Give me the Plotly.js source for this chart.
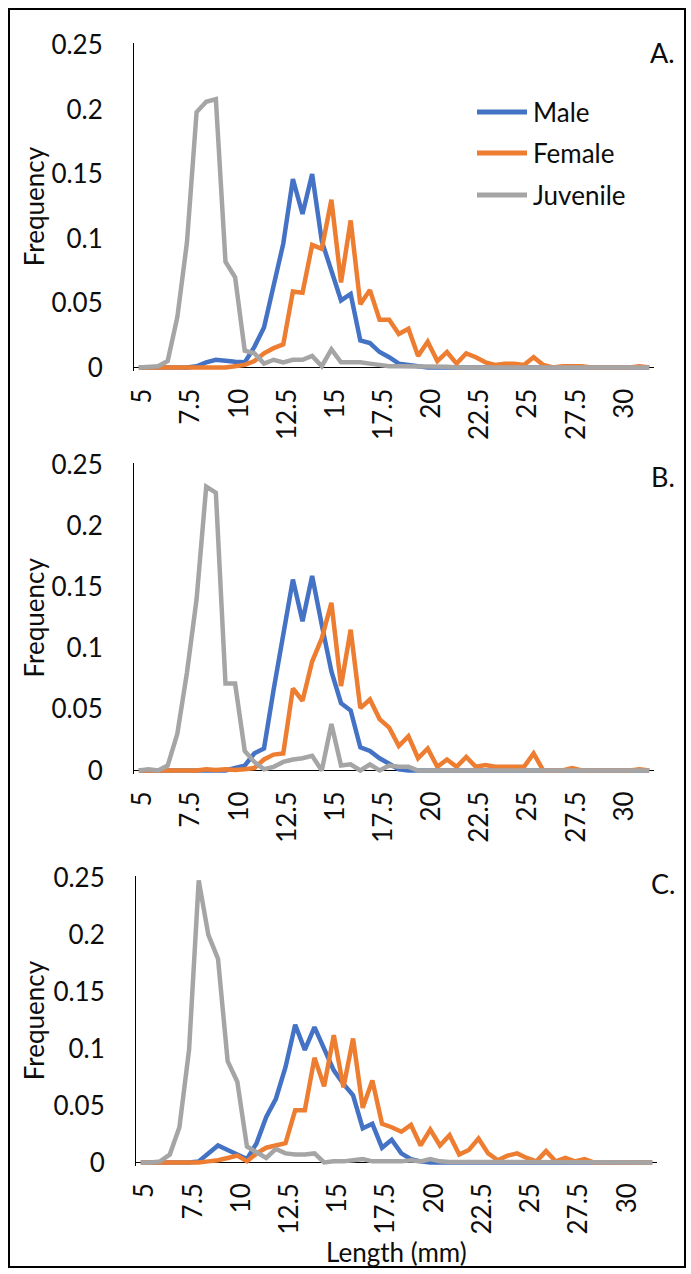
<!DOCTYPE html>
<html>
<head>
<meta charset="utf-8">
<script src="https://cdn.plot.ly/plotly-3.0.1.min.js"></script>
<style>
  html, body { margin: 0; padding: 0; background: #fff; }
  #chart { width: 691px; height: 1274px; }
</style>
</head>
<body>
<div id="chart"></div>
<script>
// Length classes (mm), one point every 0.5 mm
const lengthMm = [5, 5.5, 6, 6.5, 7, 7.5, 8, 8.5, 9, 9.5, 10, 10.5, 11, 11.5, 12, 12.5, 13, 13.5,
  14, 14.5, 15, 15.5, 16, 16.5, 17, 17.5, 18, 18.5, 19, 19.5, 20, 20.5, 21, 21.5, 22, 22.5,
  23, 23.5, 24, 24.5, 25, 25.5, 26, 26.5, 27, 27.5, 28, 28.5, 29, 29.5, 30, 30.5, 31, 31.5];

const seriesNames = ['Male', 'Female', 'Juvenile'];
const panelLabels = ['A.', 'B.', 'C.'];

const xTickVals = [5, 7.5, 10, 12.5, 15, 17.5, 20, 22.5, 25, 27.5, 30];
const xTickText = ['5', '7.5', '10', '12.5', '15', '17.5', '20', '22.5', '25', '27.5', '30'];
const yTickVals = [0, 0.05, 0.1, 0.15, 0.2, 0.25];
const yTickText = ['0', '0.05', '0.1', '0.15', '0.2', '0.25'];

// Panel A
const maleA = [0, 0, 0, 0, 0, 0, 0.001, 0.004, 0.006, 0.005, 0.0045, 0.004, 0.016, 0.031, 0.065, 0.096,
  0.146, 0.119, 0.150, 0.098, 0.075, 0.052, 0.057, 0.021, 0.019, 0.012, 0.008, 0.003, 0.002, 0.001,
  0, 0, 0, 0, 0, 0, 0, 0, 0, 0, 0, 0, 0, 0, 0, 0, 0, 0, 0, 0, 0, 0, 0, 0];
const femaleA = [0, 0, 0, 0, 0, 0, 0, 0, 0, 0, 0.001, 0.002, 0.005, 0.011, 0.015, 0.018,
  0.059, 0.058, 0.095, 0.092, 0.130, 0.066, 0.114, 0.049, 0.060, 0.037, 0.037, 0.026, 0.030, 0.009,
  0.020, 0.005, 0.012, 0.003, 0.011, 0.008, 0.004, 0.002, 0.003, 0.003, 0.002, 0.008, 0.002, 0,
  0.001, 0.001, 0.001, 0, 0, 0, 0, 0, 0.001, 0];
const juvenileA = [0, 0.0005, 0.001, 0.005, 0.039, 0.097, 0.198, 0.206, 0.208, 0.082, 0.070, 0.013,
  0.011, 0.003, 0.006, 0.004, 0.006, 0.006, 0.009, 0.001, 0.014, 0.004, 0.004, 0.004, 0.003, 0.002,
  0.001, 0.001, 0.001, 0.001, 0.001, 0.0005, 0.0005, 0, 0, 0, 0, 0, 0, 0, 0, 0, 0, 0, 0, 0, 0, 0,
  0, 0, 0, 0, 0, 0];

// Panel B
const maleB = [0, 0, 0, 0, 0, 0, 0, 0, 0, 0, 0.002, 0.004, 0.014, 0.018, 0.066, 0.109,
  0.156, 0.122, 0.159, 0.119, 0.081, 0.055, 0.049, 0.019, 0.016, 0.010, 0.005, 0.001,
  0, 0, 0, 0, 0, 0, 0, 0, 0, 0, 0, 0, 0, 0, 0, 0, 0, 0, 0, 0, 0, 0, 0, 0, 0, 0];
const femaleB = [0, 0, 0, 0, 0, 0, 0, 0.001, 0.0005, 0.001, 0.0005, 0.001, 0.002, 0.009, 0.013, 0.014,
  0.067, 0.057, 0.089, 0.108, 0.137, 0.069, 0.115, 0.051, 0.058, 0.042, 0.035, 0.020, 0.028, 0.010,
  0.018, 0.003, 0.009, 0.003, 0.011, 0.003, 0.0045, 0.003, 0.003, 0.003, 0.003, 0.014, 0, 0,
  0, 0.002, 0, 0, 0, 0, 0, 0, 0.001, 0];
const juvenileB = [0, 0.001, 0, 0.004, 0.030, 0.080, 0.140, 0.232, 0.227, 0.071, 0.071, 0.016,
  0.007, 0.001, 0.003, 0.007, 0.009, 0.010, 0.012, 0, 0.038, 0.004, 0.005, 0, 0.005, 0,
  0.004, 0.003, 0.003, 0, 0, 0, 0, 0, 0, 0, 0, 0, 0, 0, 0, 0, 0, 0, 0, 0, 0, 0, 0, 0, 0, 0, 0, 0];

// Panel C
const maleC = [0, 0, 0, 0, 0, 0, 0.001, 0.008, 0.015, 0.011, 0.007, 0.003, 0.017, 0.040, 0.056, 0.084,
  0.121, 0.099, 0.119, 0.099, 0.081, 0.069, 0.059, 0.030, 0.034, 0.013, 0.020, 0.008, 0.003, 0.001,
  0, 0, 0, 0, 0, 0, 0, 0, 0, 0, 0, 0, 0, 0, 0, 0, 0, 0, 0, 0, 0, 0, 0, 0];
const femaleC = [0, 0, 0, 0, 0, 0, 0, 0.001, 0.002, 0.004, 0.006, 0.001, 0.008, 0.013, 0.015, 0.017,
  0.046, 0.046, 0.092, 0.067, 0.112, 0.066, 0.109, 0.048, 0.072, 0.034, 0.031, 0.027, 0.033, 0.015,
  0.029, 0.015, 0.024, 0.007, 0.011, 0.021, 0.008, 0.002, 0.006, 0.008, 0.004, 0.001, 0.010, 0.001,
  0.004, 0.001, 0.003, 0, 0, 0, 0, 0, 0, 0];
const juvenileC = [0, 0, 0.001, 0.007, 0.031, 0.099, 0.248, 0.200, 0.179, 0.089, 0.071, 0.014,
  0.009, 0.004, 0.012, 0.008, 0.007, 0.007, 0.008, 0, 0.001, 0.001, 0.002, 0.003, 0.001, 0.001,
  0.001, 0.001, 0.002, 0.001, 0.003, 0.001, 0.0005, 0.0005, 0, 0, 0, 0, 0, 0, 0, 0, 0, 0, 0, 0, 0,
  0, 0, 0, 0, 0, 0, 0];

const seriesColors = ['#4472C4', '#ED7D31', '#A5A5A5'];

// ---- layout geometry (pixels) ----
const W = 691, H = 1274;
const FONT = 'Lato, "Open Sans", Arial, sans-serif';
const TXT = '#0d0d0d';
const FS = 26;
const xp = px => px / W;
const yp = py => 1 - py / H;

const panels = [
  { series: [maleA, femaleA, juvenileA], left: 134, right: 654, zeroPx: 367.5, topPx: 45, labelY: 52 },
  { series: [maleB, femaleB, juvenileB], left: 134, right: 654, zeroPx: 770.5, topPx: 464.5, labelY: 476 },
  { series: [maleC, femaleC, juvenileC], left: 136, right: 657, zeroPx: 1162.5, topPx: 878, labelY: 883 }
];

const below = 0.003, above = 0.0015;
const traces = [];
const layout = {
  width: W, height: H,
  margin: { l: 0, r: 0, t: 0, b: 0 },
  paper_bgcolor: '#ffffff',
  plot_bgcolor: 'rgba(0,0,0,0)',
  showlegend: false,
  font: { family: FONT, size: FS, color: TXT },
  shapes: [],
  annotations: []
};

panels.forEach((p, k) => {
  const n = k === 0 ? '' : String(k + 1);
  const perUnit = (p.zeroPx - p.topPx) / 0.25;
  const domBottom = p.zeroPx + below * perUnit;
  const domTop = p.topPx - above * perUnit;

  p.series.forEach((ys, s) => {
    traces.push({
      type: 'scatter', mode: 'lines',
      x: lengthMm, y: ys,
      name: seriesNames[s],
      xaxis: 'x' + n, yaxis: 'y' + n,
      line: { color: seriesColors[s], width: 4.5 },
      hoverinfo: 'skip'
    });
  });

  layout['xaxis' + n] = {
    domain: [xp(p.left), xp(p.right)],
    anchor: 'y' + n,
    range: [4.75, 31.75],
    tickmode: 'array', tickvals: xTickVals, ticktext: xTickText,
    tickangle: -90,
    ticks: '', showgrid: false, zeroline: false, showline: false,
    ticklabelstandoff: 11, ticklabelshift: 4,
    tickfont: { family: FONT, size: FS, color: TXT },
    fixedrange: true
  };
  layout['yaxis' + n] = {
    domain: [yp(domBottom), yp(domTop)],
    anchor: 'x' + n,
    range: [-below, 0.25 + above],
    tickmode: 'array', tickvals: yTickVals, ticktext: yTickText,
    ticks: '', showgrid: false,
    showline: true, linecolor: '#000000', linewidth: 1,
    zeroline: true, zerolinecolor: '#000000', zerolinewidth: 1.3,
    ticklabelstandoff: 25,
    tickfont: { family: FONT, size: FS, color: TXT },
    fixedrange: true
  };

  // axis title
  layout.annotations.push({
    xref: 'paper', yref: 'paper',
    x: xp(34), y: yp((p.zeroPx + p.topPx) / 2),
    text: 'Frequency', textangle: -90, showarrow: false,
    xanchor: 'center', yanchor: 'middle',
    font: { family: FONT, size: FS, color: TXT }
  });
  // panel letter
  layout.annotations.push({
    xref: 'paper', yref: 'paper',
    x: xp(677), y: yp(p.labelY),
    text: panelLabels[k], showarrow: false,
    xanchor: 'right', yanchor: 'middle',
    font: { family: FONT, size: FS + 1, color: TXT }
  });
});

// x-axis title under the last panel
layout.annotations.push({
  xref: 'paper', yref: 'paper',
  x: xp((panels[2].left + panels[2].right) / 2), y: yp(1252),
  text: 'Length (mm)', showarrow: false,
  xanchor: 'center', yanchor: 'middle',
  font: { family: FONT, size: FS, color: TXT }
});

// legend in the first panel
const legendRows = [112, 153, 195];
seriesNames.forEach((name, s) => {
  layout.shapes.push({
    type: 'line', xref: 'paper', yref: 'paper',
    x0: xp(477), x1: xp(527), y0: yp(legendRows[s]), y1: yp(legendRows[s]),
    line: { color: seriesColors[s], width: 5 }
  });
  layout.annotations.push({
    xref: 'paper', yref: 'paper',
    x: xp(531), y: yp(legendRows[s]),
    text: name, showarrow: false,
    xanchor: 'left', yanchor: 'middle',
    font: { family: FONT, size: FS, color: TXT }
  });
});

// outer frame
layout.shapes.push({
  type: 'rect', xref: 'paper', yref: 'paper',
  x0: xp(9), x1: xp(685), y0: yp(1267), y1: yp(9),
  line: { color: '#000000', width: 2 }, fillcolor: 'rgba(0,0,0,0)'
});

Plotly.newPlot('chart', traces, layout, { displayModeBar: false, staticPlot: true });
</script>
</body>
</html>
